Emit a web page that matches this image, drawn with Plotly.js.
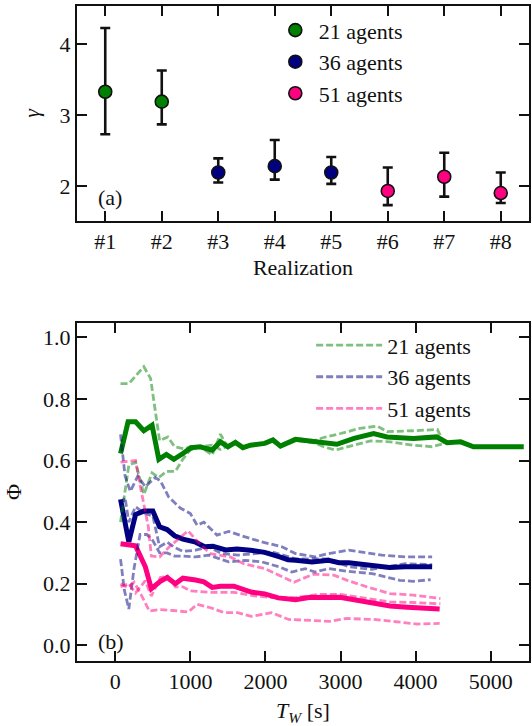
<!DOCTYPE html>
<html>
<head>
<meta charset="utf-8">
<script src="https://cdn.plot.ly/plotly-3.0.1.min.js"></script>
<style>
html,body{margin:0;padding:0;background:#fff;}
#chart{width:532px;height:726px;}
</style>
</head>
<body>
<div id="chart"></div>
<script>
// ---------- Panel (a): gamma per realization ----------
const realizations = ['#1','#2','#3','#4','#5','#6','#7','#8'];
const realizationIndex = [1,2,3,4,5,6,7,8];
const gamma      = [3.33, 3.19, 2.19, 2.28, 2.19, 1.93, 2.13, 1.90];
const gammaUpper = [4.23, 3.63, 2.39, 2.65, 2.41, 2.26, 2.47, 2.19];
const gammaLower = [2.73, 2.87, 2.05, 2.09, 2.03, 1.73, 1.85, 1.76];
const groupNames = ['21 agents', '36 agents', '51 agents'];
const groupMembers = [[0,1],[2,3,4],[5,6,7]];

// ---------- Panel (b): Phi vs T_W ----------
// 21 agents
const tw21Mean  = [70,170,270,380,490,580,680,780,900,1010,1130,1290,1400,1500,1600,1700,1800,1990,2100,2200,2400,2640,2800,2950,3180,3440,3620,3970,4280,4420,4600,4770,5010,5440];
const phi21Mean = [0.623,0.726,0.726,0.697,0.715,0.604,0.620,0.604,0.623,0.642,0.645,0.634,0.661,0.645,0.659,0.642,0.650,0.656,0.667,0.647,0.669,0.661,0.656,0.653,0.672,0.688,0.677,0.672,0.677,0.658,0.661,0.645,0.645,0.645];
const tw21A  = [70,180,380,470,590,700,790,920,1000,1130,1290,1400,1500,1600,1700,1800,2000,2100,2200,2400,2650,2775,3000,3260,3490,3620,3970,4290,4380];
const phi21A = [0.850,0.850,0.905,0.867,0.665,0.677,0.645,0.638,0.645,0.645,0.618,0.686,0.642,0.663,0.638,0.650,0.656,0.668,0.650,0.672,0.665,0.675,0.688,0.705,0.712,0.694,0.697,0.701,0.656];
const tw21B  = [70,130,180,270,380,490,580,680,800,900,1000,1130,1290,1400,1500,1600,1700,1800,2000,2100,2200,2400,2650,2775,2930,3175,3400,3660,3970,4220,4420,4600,4770,5010,5440];
const phi21B = [0.400,0.500,0.585,0.595,0.490,0.560,0.545,0.565,0.565,0.605,0.635,0.645,0.650,0.636,0.648,0.655,0.645,0.650,0.656,0.665,0.645,0.665,0.658,0.645,0.634,0.650,0.664,0.661,0.650,0.645,0.658,0.661,0.645,0.645,0.645];

// 36 agents
const tw36Mean  = [70,180,270,380,500,590,690,790,900,1010,1070,1190,1300,1470,1620,1800,1990,2190,2300,2400,2530,2620,2840,2980,3110,3430,3650,3860,3970,4220];
const phi36Mean = [0.474,0.336,0.425,0.436,0.436,0.385,0.376,0.356,0.345,0.340,0.335,0.320,0.322,0.310,0.313,0.309,0.302,0.287,0.278,0.276,0.272,0.271,0.276,0.268,0.268,0.258,0.253,0.255,0.255,0.255];
const tw36A  = [70,130,200,300,400,530,600,710,870,1000,1090,1180,1355,1510,1730,1950,2220,2400,2660,2840,3110,3290,3550,3860,4220];
const phi36A = [0.685,0.550,0.500,0.550,0.515,0.545,0.535,0.482,0.445,0.428,0.390,0.400,0.358,0.370,0.352,0.336,0.320,0.298,0.287,0.298,0.309,0.303,0.293,0.287,0.287];
const tw36B  = [70,130,180,270,380,500,590,690,790,900,1070,1240,1420,1640,1870,2090,2400,2620,2840,3110,3420,3860,4220];
const phi36B = [0.460,0.480,0.400,0.450,0.430,0.420,0.320,0.335,0.318,0.305,0.309,0.320,0.298,0.293,0.298,0.303,0.281,0.280,0.281,0.255,0.247,0.265,0.262];
const tw36C  = [70,120,180,250,330,420,500,590,690,790,900,1070,1240,1510,1730,1950,2180,2350,2530,2660,2840,3110,3420,3790,3970,4200];
const phi36C = [0.280,0.180,0.118,0.250,0.360,0.360,0.340,0.300,0.300,0.290,0.290,0.287,0.293,0.271,0.276,0.271,0.255,0.238,0.249,0.238,0.249,0.240,0.233,0.211,0.208,0.213];

// 51 agents
const tw51Mean  = [70,270,400,480,600,690,800,900,1070,1180,1290,1400,1580,1810,1990,2170,2400,2580,2990,3210,3440,3660,3890,4320];
const phi51Mean = [0.330,0.323,0.255,0.184,0.208,0.220,0.200,0.218,0.212,0.206,0.188,0.192,0.192,0.173,0.167,0.154,0.148,0.155,0.156,0.146,0.139,0.128,0.124,0.118];
const tw51A  = [70,270,330,400,440,480,590,720,880,970,1080,1260,1530,1710,1990,2200,2380,2640,2910,3090,3350,3660,3970,4330];
const phi51A = [0.595,0.600,0.520,0.430,0.385,0.290,0.287,0.320,0.352,0.372,0.341,0.298,0.287,0.265,0.249,0.225,0.205,0.231,0.228,0.211,0.190,0.168,0.163,0.152];
const tw51B  = [70,180,270,400,480,600,700,800,900,1000,1270,1580,1850,2080,2400,2700,3000,3440,3660,3970,4330];
const phi51B = [0.190,0.200,0.170,0.210,0.160,0.220,0.225,0.190,0.190,0.177,0.172,0.172,0.161,0.155,0.155,0.165,0.165,0.148,0.141,0.139,0.135];
const tw51C  = [70,160,250,340,455,590,770,970,1090,1270,1450,1630,1810,2080,2310,2530,2850,3080,3440,3800,4020,4320];
const phi51C = [0.200,0.188,0.205,0.166,0.111,0.116,0.113,0.108,0.133,0.122,0.106,0.106,0.094,0.106,0.084,0.081,0.078,0.087,0.084,0.075,0.069,0.071];

// ---------- styling ----------
const FONT = 'Liberation Serif';
const INK = '#111111';
const groupColors = ['#008000', '#000080', '#ff0080'];
const dashColors = ['rgba(0,128,0,0.5)', 'rgba(0,0,128,0.5)', 'rgba(255,0,128,0.5)'];

const traces = [];

// panel (a) traces
groupMembers.forEach((members, g) => {
  traces.push({
    type: 'scatter', mode: 'markers',
    x: members.map(i => realizationIndex[i]),
    y: members.map(i => gamma[i]),
    error_y: {
      type: 'data', symmetric: false,
      array: members.map(i => gammaUpper[i] - gamma[i]),
      arrayminus: members.map(i => gamma[i] - gammaLower[i]),
      color: INK, thickness: 2.6, width: 5
    },
    marker: {size: 13, color: groupColors[g], line: {color: INK, width: 1.6}},
    name: groupNames[g], xaxis: 'x', yaxis: 'y', legend: 'legend',
    hoverinfo: 'skip'
  });
});

// panel (b) mean lines
const means = [[tw21Mean, phi21Mean], [tw36Mean, phi36Mean], [tw51Mean, phi51Mean]];
means.forEach((m, g) => {
  traces.push({
    type: 'scatter', mode: 'lines', x: m[0], y: m[1],
    line: {color: groupColors[g], width: 5},
    showlegend: false, xaxis: 'x2', yaxis: 'y2', hoverinfo: 'skip'
  });
});

// panel (b) individual realizations (dashed)
const singles = [
  [[tw21A, phi21A], [tw21B, phi21B]],
  [[tw36A, phi36A], [tw36B, phi36B], [tw36C, phi36C]],
  [[tw51A, phi51A], [tw51B, phi51B], [tw51C, phi51C]]
];
singles.forEach((lines, g) => {
  lines.forEach((l, k) => {
    traces.push({
      type: 'scatter', mode: 'lines', x: l[0], y: l[1],
      line: {color: dashColors[g], width: 2.8, dash: '7px,3px'},
      name: groupNames[g], legendgroup: groupNames[g], showlegend: k === 0,
      xaxis: 'x2', yaxis: 'y2', legend: 'legend2', hoverinfo: 'skip'
    });
  });
});

const axisCommon = {
  showline: true, linecolor: INK, linewidth: 2,
  mirror: 'ticks', ticks: 'inside', ticklen: 10, tickwidth: 2, tickcolor: INK,
  showgrid: false, zeroline: false,
  tickfont: {family: FONT, size: 22, color: INK},
};

const layout = {
  width: 532, height: 726,
  margin: {l: 77, r: 3, t: 6, b: 65},
  paper_bgcolor: '#fff', plot_bgcolor: '#fff',
  font: {family: FONT, size: 22, color: INK},
  showlegend: true,
  xaxis: Object.assign({}, axisCommon, {
    domain: [0, 1], anchor: 'y', range: [0.5, 8.5],
    tickvals: realizationIndex, ticktext: realizations,
    title: {text: 'Realization', font: {family: FONT, size: 22, color: INK}, standoff: 6}
  }),
  yaxis: Object.assign({}, axisCommon, {
    domain: [0.6722, 1], anchor: 'x', range: [1.51, 4.54],
    tickvals: [2, 3, 4],
    title: {text: '<i>γ</i>', font: {family: FONT, size: 22, color: INK}, standoff: 14}
  }),
  xaxis2: Object.assign({}, axisCommon, {
    domain: [0, 1], anchor: 'y2', range: [-510, 5510],
    tickvals: [0, 1000, 2000, 3000, 4000, 5000],
    title: {text: '<i>T</i><sub><i>W</i></sub> [s]', font: {family: FONT, size: 22, color: INK}, standoff: 10}
  }),
  yaxis2: Object.assign({}, axisCommon, {
    domain: [0, 0.5165], anchor: 'x2', range: [-0.051, 1.048],
    tickvals: [0, 0.2, 0.4, 0.6, 0.8, 1.0], tickformat: '.1f',
    title: {text: 'Φ', font: {family: FONT, size: 22, color: INK}, standoff: 15}
  }),
  legend: {
    x: 0.431, y: 0.995, xanchor: 'left', yanchor: 'top',
    bgcolor: 'rgba(0,0,0,0)', borderwidth: 0, itemwidth: 37,
    font: {family: FONT, size: 22, color: INK}, tracegroupgap: 0
  },
  legend2: {
    x: 0.518, y: 0.514, xanchor: 'left', yanchor: 'top',
    bgcolor: 'rgba(0,0,0,0)', borderwidth: 0, itemwidth: 66,
    font: {family: FONT, size: 22, color: INK}, tracegroupgap: 0
  },
  annotations: [
    {text: '(a)', xref: 'paper', yref: 'paper', x: 0.073, y: 0.7075, showarrow: false,
     font: {family: FONT, size: 22, color: INK}, xanchor: 'center', yanchor: 'middle'},
    {text: '(b)', xref: 'paper', yref: 'paper', x: 0.075, y: 0.0305, showarrow: false,
     font: {family: FONT, size: 22, color: INK}, xanchor: 'center', yanchor: 'middle'}
  ]
};

Plotly.newPlot('chart', traces, layout, {displayModeBar: false, staticPlot: true});
</script>
</body>
</html>
